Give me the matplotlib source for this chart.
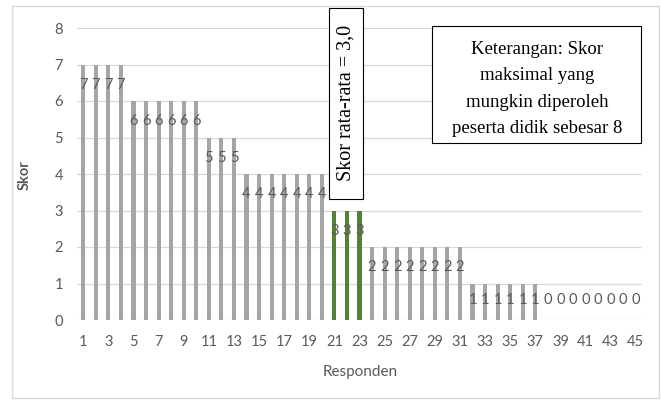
import numpy as np
import matplotlib.pyplot as plt
from matplotlib.patches import Rectangle

# skor tiap responden (1..45)
responden = list(range(1, 46))
skor = [7, 7, 7, 7,
        6, 6, 6, 6, 6, 6,
        5, 5, 5,
        4, 4, 4, 4, 4, 4, 4,
        3, 3, 3,
        2, 2, 2, 2, 2, 2, 2, 2,
        1, 1, 1, 1, 1, 1,
        0, 0, 0, 0, 0, 0, 0, 0]
rata_rata = 3.0
tick_labels = [str(r) if r % 2 == 1 else '' for r in responden]

W, H = 661, 401
fig = plt.figure(figsize=(W / 100, H / 100), dpi=100)
ax = fig.add_axes([77 / W, 1 - 320 / H, (642 - 77) / W, (320 - 28) / H])

sans = ['Lato', 'DejaVu Sans']
serif = ['Liberation Serif', 'DejaVu Serif']
gray_txt = '#595959'

colors = ['#548235' if v == rata_rata else '#A5A5A5' for v in skor]
x = np.arange(len(skor))
ax.bar(x, skor, width=0.32, color=colors, zorder=3)

for xi, v in zip(x, skor):
    ax.text(xi, max(v - 0.55, 0.55), str(v), ha='center', va='center',
            fontsize=10.5, color='#595959', family=sans, zorder=4)

ax.set_xlim(-0.5, len(skor) - 0.5)
ax.set_ylim(0, 8)
ax.set_yticks(range(0, 9))
ax.set_xticks(x)
ax.set_xticklabels(tick_labels)
ax.grid(axis='y', color='#D9D9D9', lw=0.9, zorder=0)
for s in ax.spines.values():
    s.set_visible(False)
ax.tick_params(length=0, labelsize=10.5, labelcolor=gray_txt)
ax.tick_params(axis='x', pad=11)
ax.tick_params(axis='y', pad=10)
for lb in ax.get_xticklabels() + ax.get_yticklabels():
    lb.set_family(sans)

fig.text(25 / W, 1 - 175 / H, 'Skor', rotation=90, ha='center', va='center',
         fontsize=10.5, color=gray_txt, family=sans, fontweight='bold')
fig.text(360 / W, 1 - 372 / H, 'Responden', ha='center', va='center',
         fontsize=11, color=gray_txt, family=sans)

# bingkai luar
fig.patches.append(Rectangle((12 / W, 1 - 398 / H), (659 - 12) / W, (398 - 6) / H,
                             transform=fig.transFigure, fill=False,
                             edgecolor='#D9D9D9', lw=1))

# kotak skor rata-rata
fig.patches.append(Rectangle((329 / W, 1 - 199 / H), (363 - 329) / W, (199 - 8) / H,
                             transform=fig.transFigure, facecolor='white',
                             edgecolor='black', lw=0.8, zorder=5))
fig.text(346 / W, 1 - 103 / H, 'Skor rata-rata = 3,0', rotation=90,
         ha='center', va='center', fontsize=14.5, family=serif, zorder=6)

# kotak keterangan
fig.patches.append(Rectangle((432 / W, 1 - 143 / H), (641 - 432) / W, (143 - 26) / H,
                             transform=fig.transFigure, facecolor='white',
                             edgecolor='black', lw=0.8, zorder=5))
fig.text(537 / W, 1 - 89 / H,
         'Keterangan: Skor\nmaksimal yang\nmungkin diperoleh\npeserta didik sebesar 8',
         ha='center', va='center', fontsize=13.5, family=serif, linespacing=1.7,
         zorder=6)

fig.savefig('out.png', dpi=100)
